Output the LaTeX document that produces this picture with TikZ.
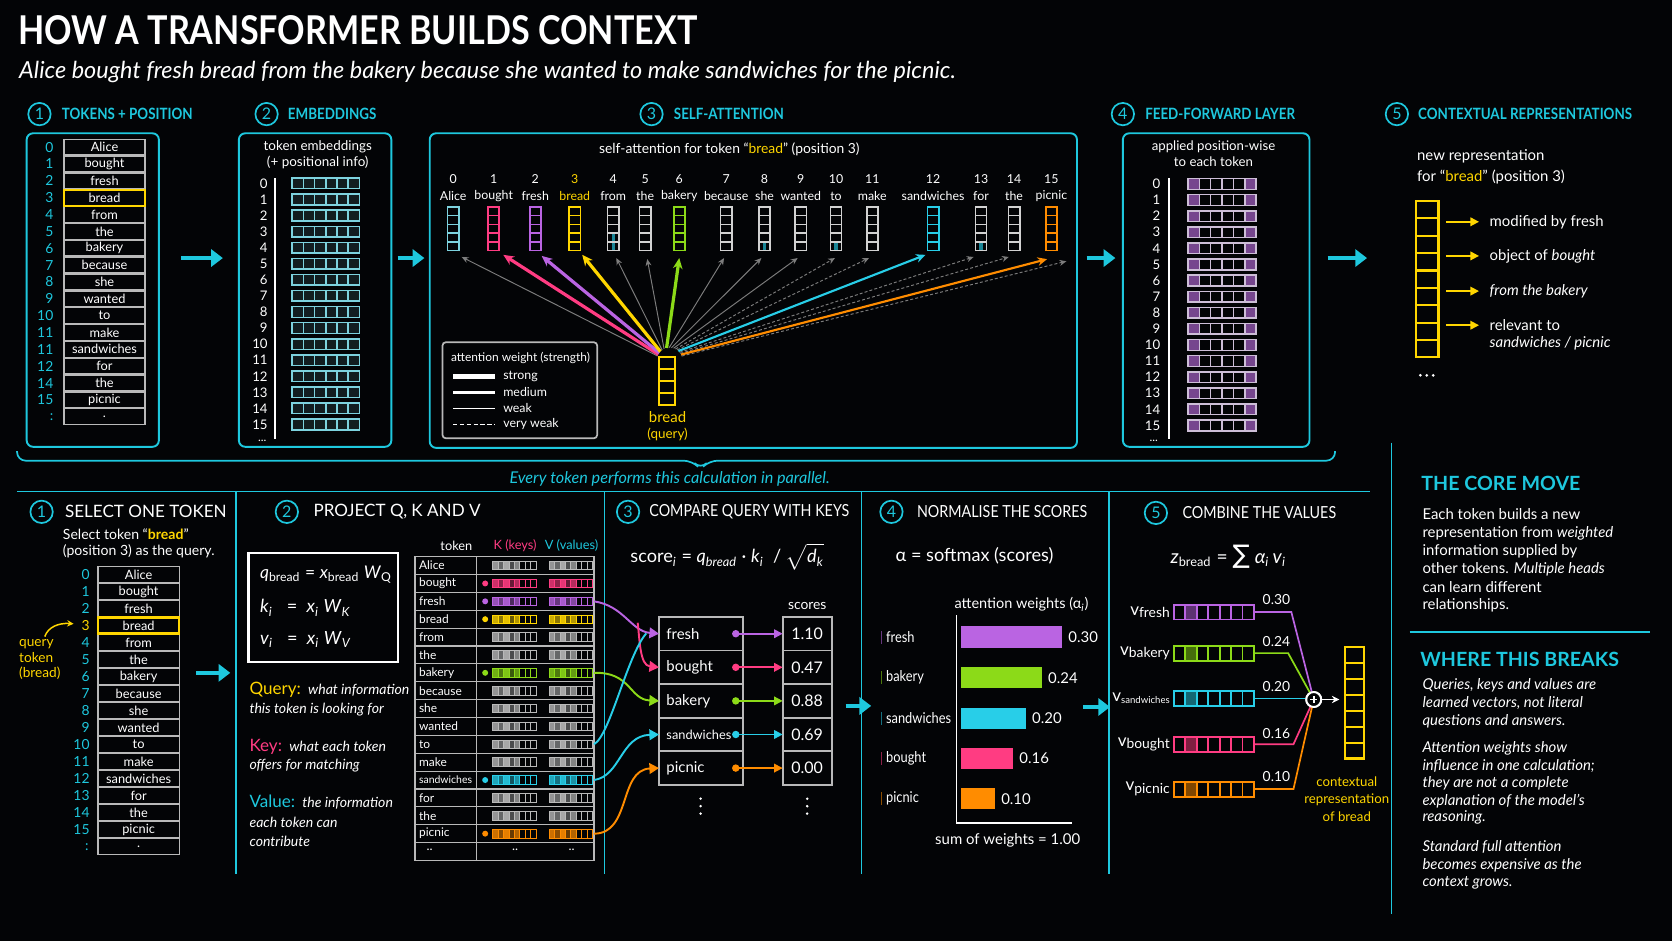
\documentclass[tikz,border=0pt]{standalone}
\usepackage{fontspec}
\usepackage{graphicx}
\setmainfont{Lato}
\newfontfamily\djv{DejaVu Sans}
\newfontfamily\cond[FakeStretch=0.86]{Lato}
\usetikzlibrary{arrows.meta,calc}
\definecolor{bgc}{RGB}{3,4,6}
\definecolor{cy}{RGB}{30,200,222}
\definecolor{yel}{RGB}{255,214,0}
\definecolor{pk}{RGB}{255,60,130}
\definecolor{pu}{RGB}{186,100,226}
\definecolor{gr}{RGB}{140,218,24}
\definecolor{cs}{RGB}{40,206,232}
\definecolor{org}{RGB}{255,140,0}
\definecolor{lgr}{RGB}{185,185,185}
\definecolor{vgr}{RGB}{210,210,210}
\definecolor{emb}{RGB}{125,210,222}
\definecolor{ffp}{RGB}{118,70,142}
\definecolor{ffb}{RGB}{205,190,215}
\definecolor{dgr}{RGB}{125,125,125}
\newcommand{\mysz}[1]{\fontsize{#1}{#1}\selectfont}
\newcommand{\kvbar}[3]{%
  \foreach \kc/\ko in {0/0.8,1/0.55,2/0.9,3/0.4,4/0.7,5/0,6/0,7/0}{%
    \draw[#3,line width=0.4pt,fill=#3,fill opacity=\ko] ({#1+\kc*5.1},{#2-4}) rectangle ++(5.1,8);}}
\begin{document}
\begin{tikzpicture}[x=0.5pt,y=-0.5pt,
  every node/.style={inner sep=0pt,outer sep=0pt,text=white},
  panel/.style={draw=cy,line width=0.9pt,rounded corners=3pt},
  numc/.style={circle,draw=cy,line width=0.8pt,minimum size=10.5pt,text=cy,font=\mysz{7.5}},
  toph/.style={anchor=west,text=cy,font=\cond\bfseries\mysz{7.3}},
  both/.style={anchor=west,text=white,font=\mysz{8}},
  bothc/.style={anchor=west,text=white,font=\cond\mysz{7.8}},
  tok/.style={font=\mysz{6}},
  cellbox/.style={draw=lgr,line width=0.6pt},
  sepline/.style={draw=cy,line width=0.8pt},
  bigarrow/.style={draw=cy,line width=2.2pt,-{Triangle[length=5.5pt,width=8pt]}},
  attstrong/.style={line width=1.5pt,-{Stealth[length=5pt,width=4.5pt]}},
  attmed/.style={line width=1pt,-{Stealth[length=4.5pt,width=4pt]}},
  attweak/.style={line width=0.45pt,-{Stealth[length=3.2pt,width=2.8pt]}},
  attvweak/.style={line width=0.45pt,dash pattern=on 1.4pt off 1pt,-{Stealth[length=3.2pt,width=2.8pt]}},
  curvearr/.style={line width=0.9pt,-{Triangle[length=4.5pt,width=5pt]}},
]
\fill[bgc] (0,0) rectangle (1568,882);
\useasboundingbox (0,0) rectangle (1568,882);

% ---------- title ----------
\node[anchor=base west,font=\cond\bfseries\mysz{18.6}] (title) at (17,42) {HOW A TRANSFORMER BUILDS CONTEXT};
\node[anchor=base west,font=\itshape\mysz{11}] (subtitle) at (18,74) {Alice bought fresh bread from the bakery because she wanted to make sandwiches for the picnic.};

% ---------- top headings ----------
\node[numc] (n1) at (37,107) {1}; \node[toph] (h1) at (58,107) {TOKENS + POSITION};
\node[numc] (n2) at (250,107) {2}; \node[toph] (h2) at (270,107) {EMBEDDINGS};
\node[numc] (n3) at (611,107) {3}; \node[toph] (h3) at (632,107) {SELF-ATTENTION};
\node[numc] (n4) at (1053,107) {4}; \node[toph] (h4) at (1074,107) {FEED-FORWARD LAYER};
\node[numc] (n5) at (1310,107) {5}; \node[toph] (h5) at (1330,107) {CONTEXTUAL REPRESENTATIONS};

% ---------- panel 1 ----------
\draw[panel] (25,125) rectangle (149,419);
\foreach \tw/\tn [count=\ii from 0] in {Alice/0,bought/1,fresh/2,bread/3,from/4,the/5,bakery/6,because/7,she/8,wanted/9,to/10,make/11,sandwiches/11,for/12,the/14,picnic/15,./:} {
  \pgfmathsetmacro\yy{138+\ii*15.8}
  \draw[cellbox] (60,\yy-7.4) rectangle (136,\yy+7.4);
  \node[tok] (ta\ii) at (98,\yy) {\tw};
  \node[anchor=east,font=\mysz{6.5},text=cy] (tn\ii) at (50,\yy) {\tn};
}
\draw[yel,line width=1pt] (60,178) rectangle (136,192.8);

% ---------- panel 2 ----------
\draw[panel] (224,125) rectangle (367,419);
\node[font=\mysz{6.3}] (embt1) at (298,138) {token embeddings};
\node[font=\mysz{6.3}] (embt2) at (298,152) {(+ positional info)};
\draw[white,line width=0.8pt] (258,167) -- (258,412);
\foreach \ii in {0,...,15} {
  \pgfmathsetmacro\yy{172+\ii*15.07}
  \node[anchor=east,font=\mysz{6.2}] (en\ii) at (251,\yy) {\ii};
  \foreach \cc in {0,...,5} \draw[emb,line width=0.7pt,fill=emb!12!bgc] (274+\cc*10.5,\yy-5) rectangle ++(10.5,10);
}
\node[font=\mysz{5.5}] (edots) at (246,413) {...};

\coordinate (a1s) at (170,242); \coordinate (a1e) at (209,242); \draw[bigarrow] (a1s) -- (a1e);
\coordinate (a2s) at (373,242); \coordinate (a2e) at (398,242); \draw[bigarrow] (a2s) -- (a2e);

% ---------- panel 3 : self-attention ----------
\draw[panel] (403,125) rectangle (1010,420);
\node[font=\mysz{6.5}] (satitle) at (684,140) {self-attention for token “\textcolor{yel}{bread}” (position 3)};
\foreach \xx/\tn/\tw/\vc/\tc in {425/0/Alice/emb/white,463/1/bought/pk/white,502/2/fresh/pu/white,539/3/bread/yel/yel,575/4/from/vgr/white,605/5/the/vgr/white,637/6/bakery/gr/white,681/7/because/vgr/white,717/8/she/vgr/white,751/9/wanted/vgr/white,784/10/to/vgr/white,818/11/make/vgr/white,875/12/sandwiches/cs/white,920/13/for/vgr/white,951/14/the/vgr/white,986/15/picnic/org/white} {
  \node[font=\mysz{5.8},text=\tc] (sn\tn) at (\xx,168) {\tn};
  \node[font=\mysz{5.8},text=\tc] (sw\tn) at (\xx,184) {\tw};
  \node[minimum width=5.25pt,minimum height=20.5pt] (sv\tn) at (\xx,214.5) {};
  \foreach \kk in {0,...,4} \draw[\vc,line width=0.8pt] (\xx-5.25,194+\kk*8.2) rectangle ++(10.5,8.2);
}
\foreach \xx/\yy in {575/219.5,575/228,717/228,784/228,920/228} \fill[cs!65!black] (\xx-1.5,\yy) rectangle (\xx+1.5,\yy+6.5);

% query vector
\node[minimum width=7.5pt,minimum height=22.5pt] (qv) at (625.5,357.5) {};
\foreach \kk in {0,...,3} \draw[yel,line width=1pt] (618,335+\kk*11.25) rectangle ++(15,11.25);
\node[font=\mysz{7},text=yel] (ql1) at (626,391) {bread};
\node[font=\mysz{6.3},text=yel] (ql2) at (626,407) {(query)};

% attention arrows
\foreach \tn/\ex/\ey/\aa/\cc/\ss in {0/433/241/-160/dgr/attweak,1/472/239/-152/pk/attstrong,2/508/240/-144/pu/attstrong,3/546/239/-136/yel/attstrong,4/578/242/-126/dgr/attweak,5/607/243/-116/dgr/attweak,6/637/242/-104/gr/attstrong,7/679/242/-92/dgr/attweak,8/714/242/-82/dgr/attweak,9/748/242/-72/dgr/attweak,10/783/242/-63/dgr/attvweak,11/815/242/-55/dgr/attvweak,12/868/239/-47/cs/attmed,13/913/241/-39/dgr/attvweak,14/946/241/-33/dgr/attvweak,15/982/243/-27/org/attmed,16/1000/245/-20/dgr/attvweak} {
  \coordinate (ao\tn) at ($(628,338)+(\aa:12)$);
  \coordinate (ae\tn) at (\ex,\ey);
  \draw[\ss,\cc] (ao\tn) -- (ae\tn);
}

% legend
\draw[lgr,line width=0.8pt,rounded corners=1.5pt] (415,321) rectangle (560,411);
\node[anchor=west,font=\mysz{5.6}] (lgt) at (423,336) {attention weight (strength)};
\draw[white,line width=2.4pt] (425,353) -- (464,353); \node[anchor=west,font=\mysz{5.8}] (lg1) at (472,353) {strong};
\draw[white,line width=1.6pt] (425,368) -- (464,368); \node[anchor=west,font=\mysz{5.8}] (lg2) at (472,368) {medium};
\draw[white,line width=0.6pt] (425,383) -- (464,383); \node[anchor=west,font=\mysz{5.8}] (lg3) at (472,383) {weak};
\draw[white,line width=0.6pt,dash pattern=on 2pt off 1.2pt] (425,398) -- (464,398); \node[anchor=west,font=\mysz{5.8}] (lg4) at (472,398) {very weak};

\coordinate (a3s) at (1019,242); \coordinate (a3e) at (1046,242); \draw[bigarrow] (a3s) -- (a3e);

% ---------- panel 4 : feed-forward ----------
\draw[panel] (1053,125) rectangle (1228,419);
\node[font=\mysz{6.2}] (fft1) at (1138,138) {applied position-wise};
\node[font=\mysz{6.2}] (fft2) at (1138,152) {to each token};
\draw[white,line width=0.8pt] (1096,167) -- (1096,412);
\foreach \ii in {0,...,15} {
  \pgfmathsetmacro\yy{172.5+\ii*15.1}
  \node[anchor=east,font=\mysz{6.2}] (fn\ii) at (1088,\yy) {\ii};
  \foreach \cc/\ff in {0/ffp,1/bgc,2/bgc,3/bgc,4/bgc,5/ffp} \draw[ffb,line width=0.7pt,fill=\ff] (1114+\cc*10.67,\yy-5) rectangle ++(10.67,10);
}
\node[font=\mysz{5.5}] (fdots) at (1082,413) {...};

\coordinate (a4s) at (1245,242); \coordinate (a4e) at (1282,242); \draw[bigarrow] (a4s) -- (a4e);

% ---------- section 5 top ----------
\node[anchor=west,font=\mysz{7}] (nr1) at (1329,147) {new representation};
\node[anchor=west,font=\mysz{7}] (nr2) at (1329,166) {for “\textcolor{yel}{bread}” (position 3)};
\foreach \kk in {0,...,8} \draw[yel,line width=1pt] (1328,188.5+\kk*16.3) rectangle ++(21,16.3);
\foreach \yy/\tt [count=\jj] in {208/modified by fresh,240/object of \textit{bought},273/\textit{from the bakery},305/relevant to} {
  \coordinate (cas\jj) at (1356,\yy); \coordinate (cae\jj) at (1387,\yy);
  \draw[yel,line width=0.8pt,-{Triangle[length=4pt,width=4pt]}] (cas\jj) -- (cae\jj);
  \node[anchor=west,font=\mysz{7}] (cal\jj) at (1397,\yy) {\tt};
}
\node[anchor=west,font=\itshape\mysz{7}] (cal5) at (1397,322) {sandwiches / picnic};
\foreach \xx in {1332,1338,1344} \fill[white] (\xx,352) circle (1.4);

% ---------- brace ----------
\draw[cy,line width=0.8pt,rounded corners=4pt] (16,423) -- (16,432) -- (649,432) -- (657,440) -- (665,432) -- (1252,432) -- (1252,423);
\node[font=\itshape\mysz{7.6},text=cy] (par) at (628,449) {Every token performs this calculation in parallel.};

% ---------- separators ----------
\draw[sepline] (16,461) -- (1285,461);
\foreach \xx in {221,567,808,1040} \draw[sepline] (\xx,461) -- (\xx,820);
\draw[sepline] (1305,415) -- (1305,857);

% ---------- bottom 1 ----------
\node[numc] (b1c) at (39,480) {1}; \node[both] (b1h) at (61,480) {SELECT ONE TOKEN};
\node[anchor=west,font=\mysz{6.6}] (st1) at (59,501) {Select token “\textcolor{yel}{\bfseries bread}”};
\node[anchor=west,font=\mysz{6.6}] (st2) at (59,517) {(position 3) as the query.};
\foreach \tw [count=\ii from 0] in {Alice,bought,fresh,bread,from,the,bakery,because,she,wanted,to,make,sandwiches,for,the,picnic,.} {
  \pgfmathsetmacro\yy{539+\ii*15.94}
  \draw[cellbox] (92,\yy-7.5) rectangle (168,\yy+7.5);
  \node[tok] (bt\ii) at (130,\yy) {\tw};
}
\foreach \ii/\cc in {0/cy,1/cy,2/cy,3/yel,4/cy,5/cy,6/cy,7/cy,8/cy,9/cy,10/cy,11/cy,12/cy,13/cy,14/cy,15/cy} {
  \node[anchor=east,font=\mysz{6.5},text=\cc] (bn\ii) at (84,539+\ii*15.94) {\ii};
}
\node[anchor=east,font=\mysz{6.5},text=cy] (bn16) at (83,794) {:};
\draw[yel,line width=1.2pt] (92,579.3) rectangle (168,594.3);
\node[anchor=west,font=\mysz{6.4},text=yel] (qt1) at (18,604) {query};
\node[anchor=west,font=\mysz{6.4},text=yel] (qt2) at (18,617) {token};
\node[anchor=west,font=\mysz{6.4},text=yel] (qt3) at (18,631) {(bread)};
\coordinate (qa1) at (42,597); \coordinate (qa2) at (69,585);
\draw[yel,line width=0.7pt,-{Stealth[length=3pt,width=3pt]}] (qa1) .. controls (45,588) and (55,584) .. (qa2);
\coordinate (a5s) at (184,631); \coordinate (a5e) at (216,631); \draw[bigarrow] (a5s) -- (a5e);

% ---------- bottom 2 ----------
\node[numc] (b2c) at (269,480) {2}; \node[both] (b2h) at (294,480) {PROJECT Q, K AND V};
\draw[white,line width=1pt] (233,519) rectangle (373,621);
\node[anchor=west,font=\mysz{8.2}] (fq) at (244,539) {\textit{q}\textsubscript{bread} = \textit{x}\textsubscript{bread} \textit{W}\textsubscript{Q}};
\node[anchor=west,font=\mysz{8.5}] (fk) at (244,570) {\textit{k}\textsubscript{\textit{i}} \ \ = \ \textit{x}\textsubscript{\textit{i}} \textit{W}\textsubscript{\textit{K}}};
\node[anchor=west,font=\mysz{8.5}] (fv) at (244,600) {\textit{v}\textsubscript{\textit{i}} \ \ = \ \textit{x}\textsubscript{\textit{i}} \textit{W}\textsubscript{\textit{V}}};
\node[anchor=west] (qd1) at (234,647) {{\mysz{8}\textcolor{yel}{Query:}} {\mysz{6.6}\itshape what information}};
\node[anchor=west,font=\itshape\mysz{6.6}] (qd2) at (234,665) {this token is looking for};
\node[anchor=west] (kd1) at (234,700) {{\mysz{8}\textcolor{pk}{Key:}} {\mysz{6.6}\itshape what each token}};
\node[anchor=west,font=\itshape\mysz{6.6}] (kd2) at (234,718) {offers for matching};
\node[anchor=west] (vd1) at (234,752) {{\mysz{8}\textcolor{cy}{Value:}} {\mysz{6.6}\itshape the information}};
\node[anchor=west,font=\itshape\mysz{6.6}] (vd2) at (234,771) {each token can};
\node[anchor=west,font=\itshape\mysz{6.6}] (vd3) at (234,789) {contribute};

\node[font=\mysz{6}] (th1) at (428,512) {token};
\node[font=\mysz{6},text=pk] (th2) at (483,512) {K (keys)};
\node[font=\mysz{6},text=cy] (th3) at (536,512) {V (values)};
\draw[lgr,line width=0.7pt] (389,522) rectangle (557,807);
\draw[lgr,line width=0.7pt] (447,522) -- (447,807);
\foreach \tw/\cc/\dd/\fsz [count=\ii from 0] in {Alice/lgr/0/5.6,bought/pk/1/5.6,fresh/pu/1/5.6,bread/yel/1/5.6,from/lgr/0/5.6,the/lgr/0/5.6,bakery/gr/1/5.6,because/lgr/0/5.6,she/lgr/0/5.6,wanted/lgr/0/5.6,to/lgr/0/5.6,make/lgr/0/5.6,sandwiches/cs/1/4.9,for/lgr/0/5.6,the/lgr/0/5.6,picnic/org/1/5.6} {
  \pgfmathsetmacro\yy{530.4+\ii*16.76}
  \draw[lgr,line width=0.5pt] (389,\yy+8.38) -- (557,\yy+8.38);
  \node[anchor=west,font=\mysz{\fsz}] (kt\ii) at (393,\yy) {\tw};
  \kvbar{462}{\yy}{\cc}
  \kvbar{515}{\yy}{\cc}
  \ifnum\dd=1 \fill[\cc] (455,\yy) circle (2.8); \fi
  \coordinate (ve\ii) at (557,\yy);
}
\node[font=\mysz{6}] (kt16) at (403,797) {..};
\node[font=\mysz{6}] (kk16) at (483,797) {..};
\node[font=\mysz{6}] (kv16) at (536,797) {..};

% ---------- bottom 3 ----------
\node[numc] (b3c) at (589,480) {3}; \node[bothc] (b3h) at (609,480) {COMPARE QUERY WITH KEYS};
\node[font=\mysz{8.5}] (scf) at (682,522) {score\textsubscript{\textit{i}} = \textit{q}\textsubscript{\textit{bread}} · \textit{k}\textsubscript{\textit{i}} \ / \(\sqrt{\mbox{\textit{d}\textsubscript{\textit{k}}}}\)};
\node[font=\mysz{6.5}] (sch) at (757,568) {scores};
\foreach \tw/\cc/\sv/\fsz [count=\jj] in {fresh/pu/1.10/7,bought/pk/0.47/7,bakery/gr/0.88/7,sandwiches/cs/0.69/6,picnic/org/0.00/7} {
  \pgfmathsetmacro\yy{594.3+(\jj-1)*31.5}
  \node[draw=lgr,line width=0.8pt,minimum width=39.5pt,minimum height=15.75pt] (kr\jj) at (657.5,\yy) {};
  \node[anchor=west,font=\mysz{\fsz}] (kw\jj) at (625,\yy) {\tw};
  \coordinate (kd\jj) at (690,\yy);
  \fill[\cc] (kd\jj) circle (3.5);
  \node[draw=lgr,line width=0.8pt,minimum width=23pt,minimum height=15.75pt,font=\mysz{7.5}] (sc\jj) at (757,\yy) {\sv};
  \draw[\cc,line width=0.8pt,-{Triangle[length=4pt,width=4pt]}] (kd\jj) -- (sc\jj.west);
}
\foreach \yy in {749,756,763} {\fill[white] (657,\yy) circle (1.3); \fill[white] (757,\yy) circle (1.3);}
\coordinate (pbr) at (598,584);
\coordinate (cyend) at (606,594);
\draw[curvearr,pu] (ve2) .. controls (585,568) and (592,592) .. (kr1.west);
\draw[curvearr,pk] (pbr) .. controls (600,600) and (600,624) .. (kr2.west);
\draw[curvearr,gr] (ve6) .. controls (592,630) and (590,656) .. (kr3.west);
\draw[cs,line width=0.9pt] (ve10) .. controls (572,690) and (588,615) .. (cyend);
\draw[curvearr,cs] (ve12) .. controls (582,728) and (582,690) .. (kr4.west);
\draw[curvearr,org] (ve15) .. controls (592,782) and (580,722) .. (kr5.west);
\coordinate (a6s) at (793,662); \coordinate (a6e) at (817,662); \draw[bigarrow] (a6s) -- (a6e);

% ---------- bottom 4 ----------
\node[numc] (b4c) at (836,480) {4}; \node[bothc] (b4h) at (860,480) {NORMALISE THE SCORES};
\node[anchor=west,font=\mysz{8.5}] (smx) at (840,521) {α = softmax (scores)};
\node[font=\mysz{6.8}] (awl) at (958,567) {attention weights (α\textsubscript{\textit{i}})};
\draw[white,line width=0.9pt] (897,577) -- (897,772) -- (1005,772);
\foreach \tw/\cc/\ee/\vv/\yy [count=\jj] in {fresh/pu/996/0.30/597.5,bakery/gr/977/0.24/635.5,sandwiches/cs/962/0.20/673.5,bought/pk/950/0.16/711,picnic/org/933/0.10/749} {
  \fill[\cc] (901,\yy-10) rectangle (\ee,\yy+10);
  \node[anchor=west,font=\mysz{7}] (bv\jj) at (\ee+6,\yy) {\vv};
  \node[anchor=west,font=\cond\mysz{7}] (bl\jj) at (831,\yy) {\tw};
  \fill[\cc!55!black] (826,\yy-6) rectangle (827.5,\yy+6);
}
\node[font=\mysz{7}] (sumw) at (945,788) {sum of weights = 1.00};
\coordinate (a7s) at (1016,663); \coordinate (a7e) at (1041,663); \draw[bigarrow] (a7s) -- (a7e);

% ---------- bottom 5 ----------
\node[numc] (b5c) at (1084,481) {5}; \node[bothc] (b5h) at (1109,481) {COMBINE THE VALUES};
\node[font=\mysz{9}] (zf) at (1152,522) {\textit{z}\textsubscript{bread} = {\djv\mysz{12}∑} \textit{α}\textsubscript{\textit{i}}\,\textit{v}\textsubscript{\textit{i}}};
\node[circle,draw=white,line width=0.9pt,minimum size=7pt,fill=bgc] (plus) at (1232,656) {};
\foreach \tw/\cc/\yy/\bx/\wt/\wy/\ssz [count=\jj] in {fresh/pu/574/1211/0.30/562/6.5,bakery/gr/612.5/1208/0.24/602/6.5,sandwiches/cs/655/1232/0.20/644/4.5,bought/pk/698/1213/0.16/688/6.5,picnic/org/740/1213/0.10/728/6.5} {
  \fill[\cc!50!black] (1111.7,\yy-7) rectangle (1122.4,\yy+7);
  \foreach \kk in {0,...,6} \draw[\cc,line width=0.9pt] (1101+\kk*10.7,\yy-7) rectangle ++(10.7,14);
  \coordinate (vr\jj) at (1176,\yy);
  \coordinate (vb\jj) at (\bx,\yy);
  \draw[\cc,line width=0.8pt] (vr\jj) -- (vb\jj) -- (plus);
  \node[font=\mysz{6.5}] (wt\jj) at (1197,\wy) {\wt};
  \node[anchor=east,font=\mysz{8}] (vl\jj) at (1097,\yy) {v{\mysz{\ssz}\raisebox{-0.35ex}{\tw}}};
}
\node[circle,draw=white,line width=0.9pt,minimum size=7pt,fill=bgc] (plus2) at (1232,656) {};
\draw[white,line width=0.8pt] (1228.5,656) -- (1235.5,656) (1232,652.5) -- (1232,659.5);
\coordinate (pe) at (1256,656);
\draw[white,line width=0.8pt,-{Stealth[length=3.5pt,width=3.5pt]}] (plus2) -- (pe);
\foreach \kk in {0,...,6} \draw[yel,line width=1pt] (1261,607+\kk*14.9) rectangle ++(18,14.9);
\node[font=\mysz{6.2},text=yel] (cr1) at (1263,733) {contextual};
\node[font=\mysz{6.2},text=yel] (cr2) at (1263,750) {representation};
\node[font=\mysz{6.2},text=yel] (cr3) at (1263,766) {of bread};

% ---------- right text ----------
\node[anchor=west,font=\bfseries\mysz{9.2},text=cy] (core) at (1333,453) {THE CORE MOVE};
\foreach \tt/\yy in {Each token builds a new/482,representation from \textit{weighted}/500,information supplied by/517,other tokens. \textit{Multiple heads}/534,can learn different/551,relationships./568} {
  \node[anchor=west,font=\mysz{7}] at (1334,\yy) {\tt};
}
\draw[cy,line width=0.8pt] (1322,593) -- (1547,593);
\node[anchor=west,font=\bfseries\mysz{9.2},text=cy] (brk) at (1332,618) {WHERE THIS BREAKS};
\foreach \tt/\yy in {{Queries, keys and values are}/643,{learned vectors, not literal}/659,questions and answers./676,Attention weights show/702,influence in one calculation;/718,they are not a complete/735,explanation of the model’s/751,reasoning./767,Standard full attention/794,becomes expensive as the/811,context grows./828} {
  \node[anchor=west,font=\itshape\mysz{7}] at (1334,\yy) {\tt};
}
\end{tikzpicture}
\end{document}
